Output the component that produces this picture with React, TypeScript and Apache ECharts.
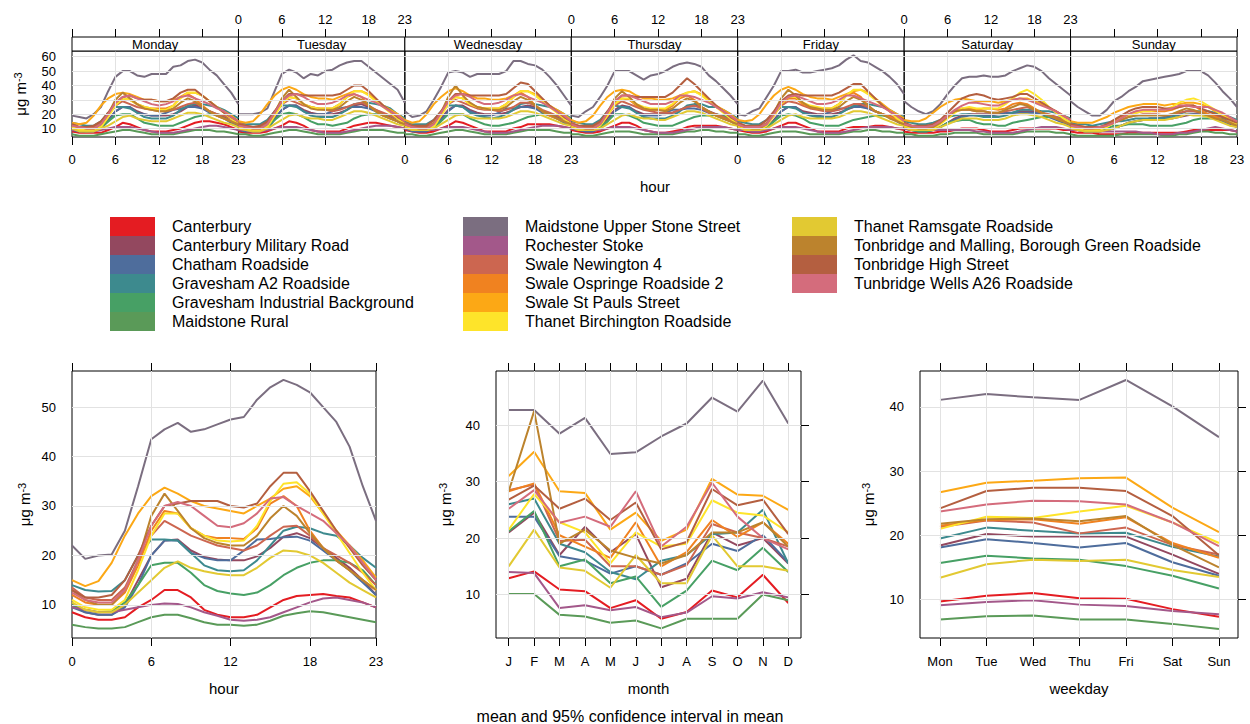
import React, { useEffect, useRef } from "react";
import * as echarts from "echarts";

const FONT = "Arial, 'Liberation Sans', sans-serif";

const sites = [
  "Canterbury",
  "Canterbury Military Road",
  "Chatham Roadside",
  "Gravesham A2 Roadside",
  "Gravesham Industrial Background",
  "Maidstone Rural",
  "Maidstone Upper Stone Street",
  "Rochester Stoke",
  "Swale Newington 4",
  "Swale Ospringe Roadside 2",
  "Swale St Pauls Street",
  "Thanet Birchington Roadside",
  "Thanet Ramsgate Roadside",
  "Tonbridge and Malling, Borough Green Roadside",
  "Tonbridge High Street",
  "Tunbridge Wells A26 Roadside",
];
const siteColors = [
  "#E41C22", "#93485F", "#4E6D9C", "#3D8A8E", "#47A065", "#5A9A58", "#7B6E80", "#A3588A",
  "#CC6650", "#F08220", "#FCA815", "#FEE42A", "#E2C932", "#BC832D", "#B45F40", "#D46C7C",
];

const dayNames = ["Monday", "Tuesday", "Wednesday", "Thursday", "Friday", "Saturday", "Sunday"];
const hourTicks = [0, 6, 12, 18, 23];
const hourGrid = [6, 12, 18];
const monthLabels = ["J", "F", "M", "A", "M", "J", "J", "A", "S", "O", "N", "D"];
const weekdayLabels = ["Mon", "Tue", "Wed", "Thu", "Fri", "Sat", "Sun"];
const topYTicks = [10, 20, 30, 40, 50, 60];
const hourYTicks = [10, 20, 30, 40, 50];
const monthYTicks = [10, 20, 30, 40];
const weekdayYTicks = [10, 20, 30, 40];

// ---- hour-of-day by weekday (top panel), one array per site: 7 days x 24 hours
const dhCanterbury = [
  [8,7,7,7,7,9,11,14,13,11,9,8,8,8,9,10,12,14,15,15,14,13,11,9],
  [8,7,7,7,8,10,12,15,14,12,9,8,8,8,8,10,12,13,14,14,13,12,11,10],
  [9,8,7,7,8,10,12,15,14,12,10,8,8,8,8,10,11,13,13,13,13,12,11,10],
  [9,8,7,7,8,10,12,14,14,12,9,8,7,7,8,9,11,12,12,12,12,11,10,9],
  [9,8,7,7,8,10,12,14,14,12,10,8,8,8,8,10,11,11,11,12,12,11,10,9],
  [8,7,7,7,7,8,8,9,10,10,10,9,8,8,8,9,10,10,10,10,10,10,9,9],
  [8,7,7,7,6,6,6,6,7,7,7,7,7,7,7,7,8,9,9,9,9,9,9,8],
];
const dhCanterburyMilitary = [
  [10,8,8,8,10,16,22,25,25,22,20,19,19,19,20,22,25,26,25,22,20,18,15,12],
  [10,9,8,8,10,17,23,26,26,23,21,20,20,20,21,23,26,27,25,23,20,18,15,12],
  [10,9,8,8,10,17,23,26,26,23,21,20,20,20,21,23,25,26,25,22,20,18,15,12],
  [10,9,8,8,10,17,23,26,25,22,20,20,20,20,21,23,25,26,25,22,20,18,16,13],
  [11,9,8,8,10,16,22,25,25,22,21,20,20,20,21,23,25,26,24,22,20,18,16,13],
  [11,10,9,8,9,11,14,17,19,20,20,20,20,20,20,21,22,22,22,21,19,17,15,13],
  [11,10,9,8,8,9,10,12,14,15,16,17,17,17,17,18,19,20,20,19,18,16,14,11],
];
const dhChatham = [
  [9,8,8,8,10,15,22,25,25,21,20,19,19,21,23,24,25,25,24,21,19,17,14,11],
  [9,8,8,8,10,16,23,26,26,22,20,20,20,22,24,25,25,25,24,22,19,17,15,12],
  [10,8,8,8,10,16,22,26,25,22,20,19,19,21,24,24,25,25,24,21,19,17,14,12],
  [10,9,8,8,10,15,22,25,25,21,19,19,19,21,23,23,24,24,23,21,19,17,15,12],
  [10,9,8,8,10,15,22,25,25,21,20,19,20,22,24,24,25,25,24,22,20,18,15,12],
  [10,9,8,8,9,11,14,16,18,19,19,19,19,20,21,21,21,21,21,20,18,16,14,12],
  [10,9,8,8,8,9,10,12,14,15,16,17,17,18,19,19,20,20,20,19,17,15,13,11],
];
const dhGraveshamA2 = [
  [14,13,12,12,15,21,25,25,24,21,18,17,17,17,19,23,26,27,27,26,25,23,20,17],
  [15,13,13,13,16,22,26,26,25,22,19,18,18,18,20,23,27,28,28,27,26,24,20,17],
  [15,13,13,13,16,22,26,26,25,21,19,18,17,18,20,23,27,28,27,26,25,23,20,17],
  [15,14,13,13,16,22,26,25,24,21,18,17,17,17,19,22,26,27,27,25,25,23,20,17],
  [15,14,13,13,16,21,25,25,24,21,19,18,18,18,20,23,26,27,27,26,25,23,20,18],
  [15,14,13,13,14,16,18,19,20,20,19,18,18,18,19,21,23,23,23,22,22,21,19,17],
  [14,13,13,12,13,14,15,15,16,17,17,17,17,17,18,20,22,22,22,22,21,19,18,16],
];
const dhGraveshamInd = [
  [10,9,8,9,11,15,19,20,20,17,14,13,12,12,12,14,16,18,19,20,20,19,17,14],
  [10,9,9,9,11,16,20,21,20,18,15,13,13,12,13,14,17,19,20,20,20,19,17,14],
  [10,9,9,9,11,15,20,20,20,17,15,13,12,12,13,14,16,18,19,20,20,19,17,14],
  [10,9,9,9,11,15,20,20,19,17,14,13,12,12,12,14,16,18,19,19,20,19,17,14],
  [10,9,9,9,11,15,19,20,19,17,14,13,12,12,12,14,16,17,18,19,19,18,17,14],
  [10,9,8,8,9,11,14,15,16,16,14,13,13,12,12,14,15,16,17,18,18,18,17,14],
  [10,9,8,8,9,10,12,12,13,13,13,12,12,12,12,13,14,16,17,17,17,17,16,13],
];
const dhMaidstoneRural = [
  [6,5,5,5,6,7,8,9,9,8,7,6,6,6,6,7,8,9,9,9,8,8,7,6],
  [6,6,5,5,6,7,8,9,9,8,7,6,6,6,6,7,8,9,9,9,9,8,7,7],
  [6,6,5,5,6,7,8,9,9,8,7,6,6,6,6,7,8,9,9,9,9,8,7,7],
  [6,6,5,5,6,7,8,8,8,7,6,6,6,6,6,7,8,8,9,9,8,8,7,7],
  [6,6,5,5,6,7,8,8,8,7,6,6,6,6,6,7,8,8,9,9,8,8,7,7],
  [6,6,5,5,5,6,6,7,7,7,7,6,6,6,6,6,7,8,8,8,8,7,7,6],
  [6,5,5,5,5,5,5,6,6,6,6,6,6,5,5,6,6,7,8,8,7,7,6,6],
];
const dhMaidstoneUpper = [
  [19,18,17,20,25,36,46,50,50,47,46,48,48,48,53,54,57,58,56,51,47,41,35,27],
  [20,20,20,21,24,36,48,51,49,45,48,47,50,51,54,56,57,57,53,49,45,41,37,28],
  [22,18,19,22,30,39,49,50,49,46,48,48,48,48,50,57,57,55,54,51,46,40,33,26],
  [19,18,22,25,32,40,50,50,50,47,44,47,48,50,53,55,56,55,53,47,43,38,33,27],
  [20,19,22,24,32,40,50,50,51,49,49,50,51,52,54,58,61,57,56,53,50,46,41,34],
  [29,25,22,20,22,27,34,40,45,46,46,47,46,46,47,50,52,54,53,50,45,41,37,33],
  [29,25,22,19,19,23,29,32,36,39,43,44,45,46,47,48,50,50,50,47,42,36,31,25],
];
const dhRochester = [
  [9,9,8,8,9,10,11,11,11,10,9,8,7,7,7,8,9,10,11,12,12,11,10,9],
  [9,9,8,8,9,10,11,11,11,10,9,8,7,7,7,8,9,10,11,12,12,12,11,10],
  [10,9,9,9,9,10,11,11,11,10,9,8,7,7,7,8,9,10,11,12,12,12,11,10],
  [10,9,9,9,9,10,11,11,11,10,9,8,7,7,7,8,9,10,11,11,11,11,10,9],
  [9,9,8,8,9,10,11,11,11,10,9,8,7,7,7,8,9,10,11,11,11,11,10,10],
  [10,9,9,9,9,9,9,9,9,9,8,8,7,7,7,7,8,9,10,11,11,11,10,9],
  [9,9,8,8,8,8,8,8,8,8,7,7,6,6,6,7,7,8,9,10,11,10,9,8],
];
const dhSwaleNewington = [
  [13,11,11,11,14,20,26,29,27,25,24,23,22,22,23,25,27,28,25,22,20,19,17,14],
  [14,12,11,11,14,21,27,30,28,26,25,24,23,22,23,25,27,28,26,23,21,19,17,14],
  [14,12,11,11,14,21,27,30,28,26,24,23,23,22,23,25,28,28,26,23,21,19,17,14],
  [14,12,11,11,14,20,26,29,27,25,23,22,21,21,21,23,25,26,24,21,20,18,16,14],
  [14,12,11,11,14,20,26,29,28,26,24,23,22,22,23,25,27,27,25,22,20,19,17,14],
  [14,12,11,11,12,15,19,22,23,23,22,22,21,21,22,23,24,25,23,21,20,18,16,14],
  [13,12,11,11,11,12,14,16,18,19,20,20,20,19,20,21,22,22,21,20,19,18,16,13],
];
const dhSwaleOspringe = [
  [12,10,10,10,13,19,27,31,30,27,25,24,24,24,26,32,34,31,26,22,19,17,15,13],
  [12,11,10,10,13,20,28,32,31,27,25,24,24,24,27,32,34,32,26,22,19,17,15,13],
  [12,11,10,10,13,20,28,32,31,27,25,24,24,24,27,32,35,32,26,22,19,17,15,13],
  [12,11,10,10,13,19,27,31,30,26,24,23,23,23,26,31,33,30,25,22,19,17,15,13],
  [12,11,10,10,13,19,27,31,31,27,25,24,24,24,27,33,35,32,26,22,20,18,16,13],
  [12,11,10,10,11,14,18,22,24,24,23,24,24,23,24,27,28,27,24,21,19,17,15,13],
  [12,10,10,9,10,12,15,18,20,21,22,22,22,22,23,25,26,26,23,20,18,16,14,12],
];
const dhSwaleStPauls = [
  [14,13,14,19,26,31,34,35,34,32,30,30,29,29,30,32,35,35,33,29,25,22,19,15],
  [15,14,15,20,27,33,37,39,37,34,32,31,31,30,32,34,36,36,34,30,26,23,20,16],
  [16,14,15,20,27,32,36,38,36,33,31,31,30,30,31,33,36,36,34,30,26,23,20,16],
  [16,14,15,19,26,32,36,37,36,33,31,31,30,30,31,33,35,36,34,30,26,23,20,16],
  [16,15,16,20,27,33,37,39,37,34,32,31,31,30,32,34,36,37,35,31,27,23,20,17],
  [16,15,15,17,21,25,28,30,31,30,29,29,29,28,29,30,31,31,29,27,24,22,19,16],
  [15,14,14,14,16,18,21,23,25,26,27,27,27,26,27,27,28,28,27,25,22,20,17,14],
];
const dhThanetBirchington = [
  [11,9,9,9,11,18,26,31,30,27,25,24,23,23,26,31,35,35,33,29,25,21,17,13],
  [11,10,9,9,11,19,27,32,31,27,25,24,24,24,27,32,36,36,33,29,25,21,17,13],
  [11,10,9,9,11,19,27,32,31,27,25,24,24,24,27,32,36,36,33,29,25,21,17,13],
  [11,10,9,9,12,19,27,31,31,27,25,24,24,24,27,32,35,36,33,29,25,21,17,13],
  [11,10,9,9,12,19,27,32,32,28,26,25,24,24,27,33,37,37,34,30,26,22,17,14],
  [12,10,9,9,10,13,17,21,24,25,24,24,24,24,27,31,35,37,34,30,25,21,17,14],
  [11,10,9,9,9,11,14,17,19,21,22,22,23,23,25,28,30,31,29,26,23,19,16,13],
];
const dhThanetRamsgate = [
  [10,8,8,8,10,12,15,18,19,17,16,15,15,15,17,19,21,21,20,18,16,14,13,11],
  [10,9,8,8,10,13,16,19,20,18,17,17,16,16,18,20,22,22,21,19,17,15,13,12],
  [11,9,9,9,10,13,16,19,20,18,17,17,17,17,18,20,22,22,21,19,17,15,13,12],
  [11,9,9,9,10,13,16,19,20,18,17,17,16,16,18,20,22,22,21,19,17,15,13,12],
  [11,9,9,9,10,13,16,19,20,18,17,17,17,17,18,20,22,22,21,19,17,15,13,12],
  [11,9,9,9,9,11,13,15,17,17,17,16,16,16,17,19,20,20,19,18,16,14,13,11],
  [10,9,8,8,8,9,10,12,14,15,16,16,16,16,17,18,20,19,19,18,16,14,12,11],
];
const dhTonbridgeMalling = [
  [13,11,10,10,13,20,30,35,31,27,24,23,22,22,24,28,31,29,25,22,19,17,15,13],
  [13,11,10,10,13,21,31,37,32,27,24,23,23,23,25,29,32,30,26,22,19,17,15,13],
  [13,11,10,10,14,21,32,40,33,28,25,24,23,23,25,29,32,30,26,22,20,17,15,13],
  [13,11,10,10,13,21,31,36,32,27,24,23,23,22,24,28,31,29,25,22,19,17,15,13],
  [13,11,10,10,13,21,31,37,33,28,25,24,23,23,25,29,32,30,26,22,20,17,15,13],
  [13,11,10,10,11,14,18,22,23,23,22,22,21,21,23,25,27,26,23,21,19,17,15,13],
  [12,11,10,10,10,12,14,16,18,19,19,19,19,19,20,22,24,23,21,19,17,16,14,12],
];
const dhTonbridgeHigh = [
  [13,11,11,12,15,21,28,32,33,31,30,30,29,29,31,35,37,37,33,29,25,21,18,15],
  [13,12,11,12,15,22,29,34,34,33,33,33,33,33,34,37,40,40,36,31,26,22,18,15],
  [13,12,12,12,16,22,29,34,34,33,33,33,33,33,34,38,42,41,36,31,26,22,18,15],
  [13,12,12,12,15,22,29,33,33,32,32,32,32,32,35,40,45,41,36,31,26,22,18,15],
  [14,12,12,12,16,22,29,33,34,33,33,33,33,33,35,38,41,41,36,31,26,22,19,16],
  [14,12,12,12,13,16,21,26,31,33,34,33,31,30,31,32,34,34,31,28,25,22,19,16],
  [13,12,11,11,11,13,16,19,22,24,25,25,25,24,24,25,26,26,24,22,20,18,16,14],
];
const dhTunbridgeWells = [
  [12,11,10,10,13,20,28,32,33,31,29,27,26,27,29,32,33,31,29,27,24,22,18,15],
  [12,11,10,10,13,21,29,33,34,32,29,27,27,28,30,33,34,32,30,28,25,22,19,15],
  [13,11,10,10,13,21,29,33,34,32,29,27,27,28,30,33,34,32,30,28,25,22,19,15],
  [13,11,10,10,13,21,29,33,33,31,29,27,27,27,29,33,33,32,30,28,25,22,19,15],
  [13,11,11,11,13,20,28,32,33,31,29,27,27,28,30,33,33,31,29,27,25,22,19,15],
  [13,12,11,11,12,15,19,23,26,28,28,27,26,26,28,30,31,30,28,26,24,22,19,16],
  [12,11,10,10,11,12,14,17,20,22,23,23,23,23,24,26,26,25,25,25,23,21,18,15],
];
const dayHour = [
  dhCanterbury, dhCanterburyMilitary, dhChatham, dhGraveshamA2, dhGraveshamInd, dhMaidstoneRural,
  dhMaidstoneUpper, dhRochester, dhSwaleNewington, dhSwaleOspringe, dhSwaleStPauls,
  dhThanetBirchington, dhThanetRamsgate, dhTonbridgeMalling, dhTonbridgeHigh, dhTunbridgeWells,
];

// ---- hour of day (bottom left)
const hourly = [
  [8.5,7.5,7,7,7.5,9.5,11,13,13,11.5,9,8,7.5,7.5,8,9.5,11,11.8,12,12.2,11.8,11.5,10.5,9.5],
  [10,8.5,8,8,10,15,20,23,23.2,21,19.7,19.2,19,19,19.8,21.5,23.8,24.5,23.5,21.5,19.5,17.5,15,12],
  [9.5,8.5,8,8,9.5,14,20,23,23,20.5,19.5,19,19,21,23.2,23.3,23.7,23.8,23,21,19,17,14.5,12],
  [14,13,12.7,12.8,15,20,23.2,23.2,23,20.5,18,17,16.8,17,19,22,25,25.8,25.5,24.5,24,22,19.5,17.5],
  [10,9,8.5,8.7,10.5,14,18,18.5,18.5,16.5,14,12.8,12.3,12,12.5,14,16,17.5,18.5,19,19,18.5,17,14],
  [6,5.5,5.2,5.2,5.5,6.5,7.5,8,8,7.3,6.5,6,6,5.8,6,6.8,7.8,8.3,8.7,8.5,8,7.5,7,6.5],
  [22,19.3,20,20.2,25,34,43.5,45.5,46.8,45,45.5,46.5,47.5,48,51.5,54,55.5,54.5,53,50,47,42,34,27],
  [9.5,9,8.5,8.5,9,9.5,10,10.3,10.2,9.5,8.5,7.8,7,6.8,7,7.5,8.5,9.5,10.5,11.3,11.5,11,10.5,9.5],
  [13.5,11.5,11,11,13.5,19,24,27,25.5,24,23,22,21.5,21,22,24,25.8,26,24,21.5,20,18.5,16.5,14],
  [12,10.5,10,10,12.5,18,25,29,28.5,25.5,24,23.5,23.5,23.3,25.5,30.5,32,30,25,21.5,19,17,15,13],
  [15,13.8,14.8,18.5,24,28.5,32,33.7,32.5,31,30,29.5,29,28.5,30,31.5,33.5,34,32,28.5,25,22,19,15.5],
  [11,9.5,9,9,11,17,24,28.5,28.5,25.5,24,23,22.8,23,26,31,34.5,34.8,32.5,28.5,24.5,20.5,16.5,13],
  [10.5,9,8.5,8.5,10,12.5,15,17.5,18.8,17.5,16.8,16.3,16,16,17.5,19.5,21,20.8,20,18.5,16.5,14.5,13,11.5],
  [13,11,10,10,13,19,28,32.5,29,25.5,23.5,22.5,22,22,24,27.5,30,28,24.5,21.5,19,17,15,13],
  [13,11.5,11.5,12,15,20,26,30,30.5,31,31,31,30,29.7,30.5,34,36.7,36.7,33,29,25,21.5,18,15],
  [12.5,11,10.5,10.5,13,19,26,30,30.8,30,28,26,25.7,26.5,28.5,31.5,31.8,30,28.5,27,24.5,22,18.5,15],
];

// ---- month (bottom middle)
const monthly = [
  [12.9,14.1,10.9,10.6,7.6,9,5.7,6.9,10.7,9.5,13.5,8.5],
  [21,24.5,17,22,17.5,20.7,11.3,12.8,21,18.7,20,15.5],
  [23.8,23.8,16.8,16,13.7,15,13.5,15.5,19,17.7,20.5,15.7],
  [26,27,19,17.5,14,12.7,16,17,20.7,21,25,15.5],
  [21.2,24.8,15,16.2,12,13.2,7.8,10.7,16,14.3,18.3,14],
  [10.1,10.1,6.4,6.1,5,5.4,4,5.7,5.7,5.7,10,9],
  [42.7,42.7,38.5,41.3,34.9,35.2,38,40.3,44.9,42.4,47.9,40.3],
  [14,13.8,7.6,8.1,7.2,7.8,6,6.8,9.7,9.3,10.4,9.5],
  [28.5,29.5,19.5,19.7,15,15,13.5,15.2,22.5,21,20,18.5],
  [28.3,29.7,20.5,18.5,16.5,22.8,15,17.5,23.2,20.2,22.8,19],
  [31,35.3,28.3,28,21.5,24.5,19.5,21.5,30.5,27.7,27.5,25],
  [21.5,27.8,22.8,21,15.5,21,18.5,19,26.7,24.5,24,21],
  [15,21.5,14.8,14.2,11.2,17,12,12,20.5,15,15,14.2],
  [28.3,42.5,19,21.5,17.8,16.5,15.5,17,21,21,22.8,18.5],
  [26.8,29.3,25.2,27,23.2,26.3,18,19.3,28.7,25.8,26.8,20.7],
  [25.2,28.5,22.7,23.8,22,28.3,18.5,22,29.8,23.8,20,18],
];

// ---- weekday (bottom right)
const weekly = [
  [9.7,10.6,11,10.2,10.1,8.5,7.3],
  [18.4,20.2,19.8,19.8,19.8,17,14],
  [18.1,19.4,18.8,18.1,18.8,15.8,13.7],
  [19.5,21.2,20.7,20.3,20.4,18.2,16.7],
  [15.7,16.8,16.4,16.2,15.2,13.7,11.7],
  [6.9,7.4,7.5,6.9,6.9,6.2,5.4],
  [41.1,42,41.5,41.1,44.2,40.1,35.3],
  [9.1,9.6,9.9,9.2,9,8.2,7.7],
  [21.3,22.3,22,20.3,21.2,18.5,17],
  [21.5,22.4,22.5,21.8,22.8,18.8,16.5],
  [26.7,28.2,28.5,28.9,29,24.3,20.5],
  [21,22.9,22.7,23.7,24.6,22,18.8],
  [13.4,15.5,16.2,16,16.2,14.6,13.5],
  [21.8,22.5,22.6,22.2,23,18.5,15],
  [24.2,26.9,27.4,27.4,26.9,23,16.9],
  [23.7,24.8,25.4,25.3,24.8,22,18.3],
];

const txt = { color: "#000", fontFamily: FONT, fontSize: 13 };
const yName = "{b|μg m}{s|-3}";
const yNameStyle = {
  color: "#000",
  fontFamily: FONT,
  rich: {
    b: { fontSize: 15, fontFamily: FONT, color: "#000", verticalAlign: "bottom", lineHeight: 16 },
    s: { fontSize: 11, fontFamily: FONT, color: "#000", verticalAlign: "top", lineHeight: 12, padding: [0, 0, 8, 0] },
  },
};

function buildOption() {
  const grid: any[] = [];
  const xAxis: any[] = [];
  const yAxis: any[] = [];
  const series: any[] = [];
  const graphic: any[] = [];

  const tickStyle = { color: "#000", width: 1 };

  const addGridLines = (xi: number, yi: number, xs: number[], ys: number[]) => {
    series.push({
      type: "line",
      name: "gridlines",
      xAxisIndex: xi,
      yAxisIndex: yi,
      data: [],
      silent: true,
      z: 1,
      markLine: {
        silent: true,
        symbol: ["none", "none"],
        label: { show: false },
        emphasis: { disabled: true },
        lineStyle: { color: "#E2E2E2", width: 1, type: "solid" },
        data: [...xs.map((v) => ({ xAxis: v })), ...ys.map((v) => ({ yAxis: v }))],
      },
    });
  };

  // ---------- top panel: 7 day strips ----------
  const W = 1165 / 7;
  for (let d = 0; d < 7; d++) {
    const left = 72 + d * W;
    grid.push({ left, top: 51, width: W, height: 86, show: true, borderColor: "#000", borderWidth: 1 });
    const gi = grid.length - 1;
    const xb = xAxis.length;
    xAxis.push({
      gridIndex: gi, type: "value", min: 0, max: 23, position: "bottom",
      axisLine: { show: false }, splitLine: { show: false },
      axisTick: { show: true, length: 8, customValues: hourTicks, lineStyle: tickStyle },
      axisLabel: { show: d % 2 === 0, customValues: hourTicks, margin: 16, ...txt },
    });
    xAxis.push({
      gridIndex: gi, type: "value", min: 0, max: 23, position: "top", offset: 14,
      axisLine: { show: false }, splitLine: { show: false },
      axisTick: { show: true, length: 8, customValues: hourTicks, lineStyle: tickStyle },
      axisLabel: { show: d % 2 === 1, customValues: hourTicks, margin: 11, ...txt },
    });
    const yl = yAxis.length;
    yAxis.push({
      gridIndex: gi, type: "value", min: 4.1, max: 64, position: "left",
      axisLine: { show: false }, splitLine: { show: false },
      axisTick: { show: false },
      axisLabel: { show: d === 0, customValues: topYTicks, margin: 16, ...txt },
      name: d === 0 ? yName : "", nameLocation: "middle", nameRotate: 90, nameGap: 44,
      nameTextStyle: yNameStyle,
    });
    if (d === 6) {
      yAxis.push({
        gridIndex: gi, type: "value", min: 4.1, max: 64, position: "right",
        axisLine: { show: false }, splitLine: { show: false },
        axisTick: { show: true, length: 8, customValues: topYTicks, lineStyle: tickStyle },
        axisLabel: { show: false },
      });
    }
    addGridLines(xb, yl, hourGrid, topYTicks);
    for (let s = 0; s < sites.length; s++) {
      series.push({
        type: "line", name: sites[s], xAxisIndex: xb, yAxisIndex: yl,
        data: dayHour[s][d].map((v, h) => [h, v]),
        symbol: "none", silent: true,
        lineStyle: { color: siteColors[s], width: 2 },
        itemStyle: { color: siteColors[s] },
      });
    }
    graphic.push({
      type: "rect",
      shape: { x: left, y: 37, width: W, height: 14 },
      style: { fill: "#fff", stroke: "#000", lineWidth: 1 },
      z: 10,
    });
    graphic.push({
      type: "text",
      x: left + W / 2,
      y: 44.5,
      style: {
        text: dayNames[d], fill: "#000", fontSize: 13, fontFamily: FONT,
        align: "center", verticalAlign: "middle", textAlign: "center", textVerticalAlign: "middle",
      },
      z: 11,
    });
  }

  // ---------- bottom panels ----------
  const panels = [
    {
      left: 72, width: 304, xmin: 0, xmax: 23, ymin: 3.3, ymax: 57.3,
      xTicks: hourTicks, xFmt: (v: number) => String(v), yTicks: hourYTicks, xGrid: hourGrid,
      xName: "hour", data: hourly.map((arr) => arr.map((v, i) => [i, v])), nameGap: 40,
    },
    {
      left: 496, width: 305, xmin: 0.5, xmax: 12.5, ymin: 2.3, ymax: 49.6,
      xTicks: monthLabels.map((_, i) => i + 1), xFmt: (v: number) => monthLabels[Math.round(v) - 1],
      yTicks: monthYTicks, xGrid: monthLabels.map((_, i) => i + 1),
      xName: "month", data: monthly.map((arr) => arr.map((v, i) => [i + 1, v])), nameGap: 43,
    },
    {
      left: 920, width: 318, xmin: 0.57, xmax: 7.41, ymin: 4, ymax: 45.6,
      xTicks: weekdayLabels.map((_, i) => i + 1), xFmt: (v: number) => weekdayLabels[Math.round(v) - 1],
      yTicks: weekdayYTicks, xGrid: weekdayLabels.map((_, i) => i + 1),
      xName: "weekday", data: weekly.map((arr) => arr.map((v, i) => [i + 1, v])), nameGap: 44,
    },
  ];
  for (const p of panels) {
    grid.push({ left: p.left, top: 371, width: p.width, height: 267, show: true, borderColor: "#000", borderWidth: 1 });
    const gi = grid.length - 1;
    const xb = xAxis.length;
    xAxis.push({
      gridIndex: gi, type: "value", min: p.xmin, max: p.xmax, position: "bottom",
      axisLine: { show: false }, splitLine: { show: false },
      axisTick: { show: true, length: 8, customValues: p.xTicks, lineStyle: tickStyle },
      axisLabel: { show: true, customValues: p.xTicks, formatter: p.xFmt, margin: 17, ...txt },
      name: p.xName, nameLocation: "middle", nameGap: 43,
      nameTextStyle: { fontSize: 15, color: "#000", fontFamily: FONT },
    });
    xAxis.push({
      gridIndex: gi, type: "value", min: p.xmin, max: p.xmax, position: "top",
      axisLine: { show: false }, splitLine: { show: false },
      axisTick: { show: true, length: 8, customValues: p.xTicks, lineStyle: tickStyle },
      axisLabel: { show: false },
    });
    const yl = yAxis.length;
    yAxis.push({
      gridIndex: gi, type: "value", min: p.ymin, max: p.ymax, position: "left",
      axisLine: { show: false }, splitLine: { show: false }, axisTick: { show: false },
      axisLabel: { show: true, customValues: p.yTicks, margin: 16, ...txt },
      name: yName, nameLocation: "middle", nameRotate: 90, nameGap: p.nameGap,
      nameTextStyle: yNameStyle,
    });
    yAxis.push({
      gridIndex: gi, type: "value", min: p.ymin, max: p.ymax, position: "right",
      axisLine: { show: false }, splitLine: { show: false },
      axisTick: { show: true, length: 8, customValues: p.yTicks, lineStyle: tickStyle },
      axisLabel: { show: false },
    });
    addGridLines(xb, yl, p.xGrid, p.yTicks);
    for (let s = 0; s < sites.length; s++) {
      series.push({
        type: "line", name: sites[s], xAxisIndex: xb, yAxisIndex: yl,
        data: p.data[s], symbol: "none", silent: true,
        lineStyle: { color: siteColors[s], width: 2 },
        itemStyle: { color: siteColors[s] },
      });
    }
  }

  graphic.push({
    type: "text", x: 655, y: 186,
    style: { text: "hour", fill: "#000", fontSize: 15, fontFamily: FONT, align: "center", verticalAlign: "middle", textAlign: "center", textVerticalAlign: "middle" },
  });
  graphic.push({
    type: "text", x: 630, y: 716,
    style: { text: "mean and 95% confidence interval in mean", fill: "#000", fontSize: 16, fontFamily: FONT, align: "center", verticalAlign: "middle", textAlign: "center", textVerticalAlign: "middle" },
  });

  const legendBase = {
    orient: "vertical",
    itemWidth: 45,
    itemHeight: 19,
    itemGap: 0,
    icon: "rect",
    selectedMode: false,
    padding: 0,
    textStyle: { fontSize: 16, color: "#000", fontFamily: FONT, lineHeight: 19, padding: [0, 0, 0, 12] },
  };
  const legend = [
    { ...legendBase, left: 110, top: 217, data: sites.slice(0, 6) },
    { ...legendBase, left: 463, top: 217, data: sites.slice(6, 12) },
    { ...legendBase, left: 792, top: 217, data: sites.slice(12, 16) },
  ];

  return {
    animation: false,
    backgroundColor: "#fff",
    textStyle: { fontFamily: FONT },
    grid, xAxis, yAxis, series, graphic, legend,
  };
}

export default function App() {
  const ref = useRef<HTMLDivElement>(null);
  useEffect(() => {
    if (!ref.current) return;
    const chart = echarts.init(ref.current, null, { renderer: "svg" });
    chart.setOption(buildOption() as any);
    return () => chart.dispose();
  }, []);
  return (
    <div
      ref={ref}
      style={{ position: "absolute", left: 0, top: 0, width: 1250, height: 724 }}
    />
  );
}
